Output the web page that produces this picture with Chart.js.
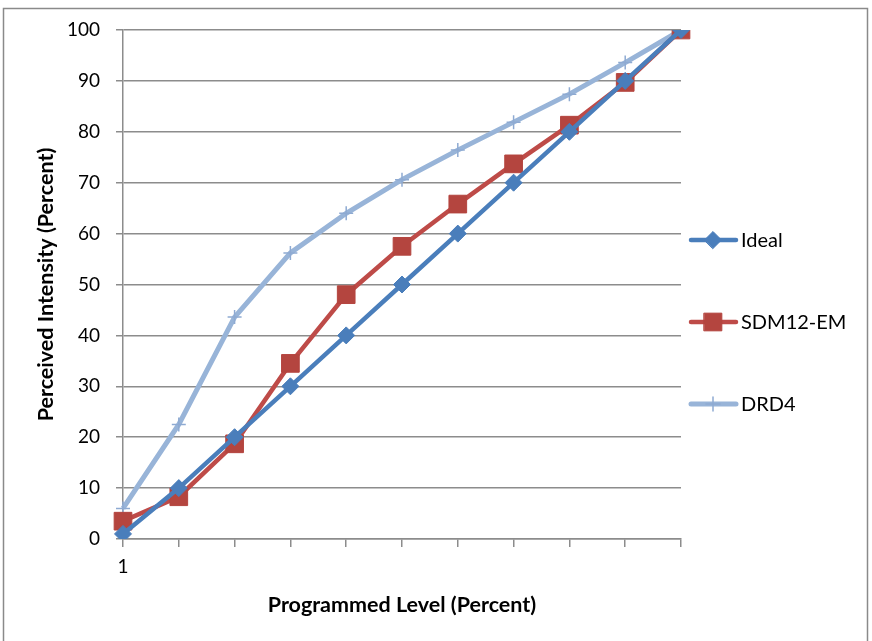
<!DOCTYPE html>
<html>
<head>
<meta charset="utf-8">
<script src="https://cdn.jsdelivr.net/npm/chart.js@4"></script>
<style>
  html, body { margin: 0; padding: 0; background: #fff; }
  #wrap { position: relative; width: 872px; height: 641px; }
</style>
</head>
<body>
<div id="wrap"><canvas id="chart" width="872" height="641"></canvas></div>
<script>
// categories (only the first one carries a label in the original)
const xTickLabels = ['1', '', '', '', '', '', '', '', '', '', ''];
const seriesNames = ['Ideal', 'SDM12-EM', 'DRD4'];
const idealValues = [1, 10, 20, 30, 40, 50, 60, 70, 80, 90, 100];
const sdmValues = [3.5, 8.3, 18.7, 34.5, 48, 57.5, 65.8, 73.7, 81.3, 89.7, 100];
const drdValues = [6, 22.5, 43.6, 56.2, 64, 70.6, 76.4, 81.9, 87.4, 93.6, 100];
const yTicks = [0, 10, 20, 30, 40, 50, 60, 70, 80, 90, 100];

const FONT = 'Lato, "Open Sans", sans-serif';
const GRID = '#8c8c8c';

// frame around the whole picture + legend on the right
const framePlugin = {
  id: 'frame',
  beforeDraw(chart) {
    const c = chart.ctx;
    c.save();
    c.fillStyle = '#fff';
    c.fillRect(0, 0, chart.width, chart.height);
    c.strokeStyle = '#8a8a8a';
    c.lineWidth = 1.5;
    c.strokeRect(3.5, 8.5, 864, 640);
    c.restore();
  },
  afterDraw(chart) {
    const c = chart.ctx;
    const ys = [240, 322, 404];
    chart.data.datasets.forEach((ds, i) => {
      const y = ys[i];
      c.save();
      c.strokeStyle = ds.borderColor;
      c.lineWidth = ds.borderWidth;
      c.lineCap = 'round';
      c.beginPath();
      c.moveTo(691, y);
      c.lineTo(736, y);
      c.stroke();
      c.fillStyle = ds.pointBackgroundColor;
      c.strokeStyle = ds.pointBorderColor;
      c.lineWidth = ds.pointBorderWidth;
      c.beginPath();
      const pt = ds.pointStyle;
      const r = ds.pointRadius;
      if (pt === 'rectRot') {
        c.moveTo(713 - r, y); c.lineTo(713, y - r); c.lineTo(713 + r, y); c.lineTo(713, y + r); c.closePath();
        c.fill(); c.stroke();
      } else if (pt === 'rect') {
        const s = r * Math.SQRT1_2;
        c.rect(713 - s, y - s, 2 * s, 2 * s);
        c.fill(); c.stroke();
      } else {
        c.moveTo(713 - r, y); c.lineTo(713 + r, y);
        c.moveTo(713, y - r); c.lineTo(713, y + r);
        c.stroke();
      }
      c.fillStyle = '#000';
      c.font = '20px ' + FONT;
      c.textBaseline = 'middle';
      c.textAlign = 'left';
      c.fillText(ds.label, 741, y + 1);
      c.restore();
    });
  }
};

new Chart(document.getElementById('chart'), {
  type: 'line',
  data: {
    labels: xTickLabels,
    datasets: [
      {
        label: seriesNames[0],
        data: idealValues,
        borderColor: '#4a7ebb',
        borderWidth: 4.5,
        pointStyle: 'rectRot',
        pointRadius: 8.5,
        pointBackgroundColor: '#4a7ebb',
        pointBorderColor: '#4a7ebb',
        pointBorderWidth: 1,
        tension: 0
      },
      {
        label: seriesNames[1],
        data: sdmValues,
        borderColor: '#be4b48',
        borderWidth: 4.5,
        pointStyle: 'rect',
        pointRadius: 12.5,
        pointBackgroundColor: '#b4453f',
        pointBorderColor: '#b4453f',
        pointBorderWidth: 1,
        tension: 0
      },
      {
        label: seriesNames[2],
        data: drdValues,
        borderColor: '#98b4d8',
        borderWidth: 5,
        pointStyle: 'cross',
        pointRadius: 7,
        pointBackgroundColor: '#98b4d8',
        pointBorderColor: '#8eaad2',
        pointBorderWidth: 1.5,
        tension: 0
      }
    ]
  },
  options: {
    responsive: false,
    animation: false,
    layout: { padding: { left: 0, top: 30, right: 191, bottom: 0 } },
    plugins: {
      legend: { display: false },
      tooltip: { enabled: false }
    },
    scales: {
      x: {
        offset: false,
        afterFit(scale) { scale.height = 102; },
        grid: { drawOnChartArea: false, drawTicks: true, tickLength: 8, color: GRID, lineWidth: 1.5 },
        border: { color: GRID, width: 1.5 },
        ticks: { autoSkip: false, maxRotation: 0, padding: 8, color: '#000', font: { family: FONT, size: 19 } },
        title: {
          display: true,
          text: 'Programmed Level (Percent)',
          color: '#000',
          font: { family: FONT, size: 21.5, weight: 'bold' },
          padding: { top: 0, bottom: 23 }
        }
      },
      y: {
        min: 0,
        max: 100,
        afterFit(scale) { scale.width = 123; },
        afterBuildTicks(scale) { scale.ticks = yTicks.map(v => ({ value: v })); },
        grid: { color: GRID, lineWidth: 1.5, tickLength: 7 },
        border: { color: GRID, width: 1.5 },
        ticks: { padding: 16, color: '#000', font: { family: FONT, size: 19 } },
        title: {
          display: true,
          text: 'Perceived Intensity (Percent)',
          color: '#000',
          font: { family: FONT, size: 21.5, weight: 'bold' },
          padding: { top: 33, bottom: 0 }
        }
      }
    }
  },
  plugins: [framePlugin]
});
</script>
</body>
</html>
